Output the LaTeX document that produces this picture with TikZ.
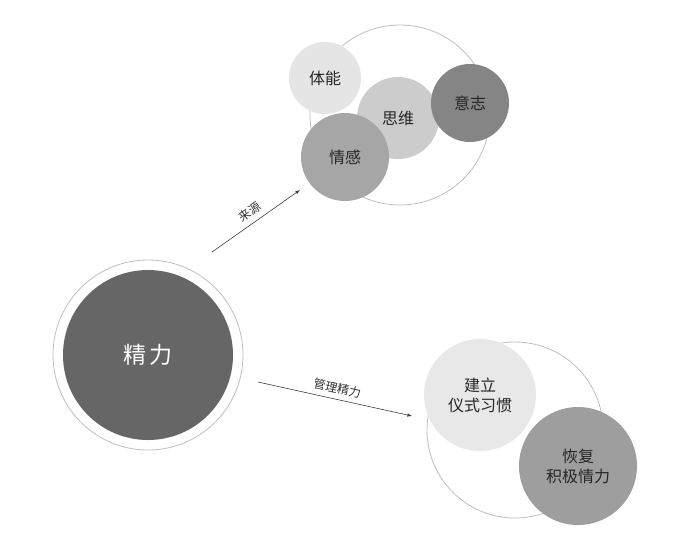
\documentclass[tikz,border=0pt]{standalone}
\usepackage{fontspec}
\newfontfamily\cjk{Noto Sans CJK SC}
\begin{document}
\begin{tikzpicture}[x=1pt,y=-1pt,
  ring/.style={circle,draw=black!25,line width=0.8pt,fill=white,inner sep=0pt},
  ball/.style={circle,inner sep=0pt,font=\cjk\fontsize{16}{20}\selectfont,align=center,text=black!85},
  arr/.style={-latex,draw=black!75,line width=0.6pt},
  lab/.style={font=\cjk\fontsize{12}{14}\selectfont,text=black!80,inner sep=1pt}]
\useasboundingbox (0,0) rectangle (700,542);
\fill[white] (0,0) rectangle (700,542);
% top group
\node[ring,minimum size=180pt] (r1) at (400,115) {};
\node[ball,minimum size=72pt,fill=black!10] (tn) at (325,78) {体能};
\node[ball,minimum size=82pt,fill=black!20] (sw) at (398,118) {思维};
\node[ball,minimum size=78pt,fill=black!48] (yz) at (470,103) {意志};
\node[ball,minimum size=88pt,fill=black!35] (qg) at (345,157) {情感};
% center
\node[ring,minimum size=190pt] (c0) at (148,355) {};
\node[circle,minimum size=170pt,fill=black!60,inner sep=0pt,text=white,font=\cjk\fontsize{23}{26}\selectfont] (jl) at (148,355) {精\,力};
% bottom group
\node[ring,minimum size=176pt] (r2) at (515,430) {};
\node[ball,minimum size=112pt,fill=black!9] (jv) at (480,395) {建立\\仪式习惯};
\node[ball,minimum size=118pt,fill=black!38] (hf) at (578,466) {恢复\\积极情力};
% arrows
\coordinate (a1s) at (212,252); \coordinate (a1e) at (300,190);
\draw[arr] (a1s) -- (a1e) node[lab,midway,above=4pt,sloped] {来源};
\coordinate (a2s) at (258,382); \coordinate (a2e) at (412,416);
\draw[arr] (a2s) -- (a2e) node[lab,midway,above=4pt,sloped] {管理精力};
\end{tikzpicture}
\end{document}
